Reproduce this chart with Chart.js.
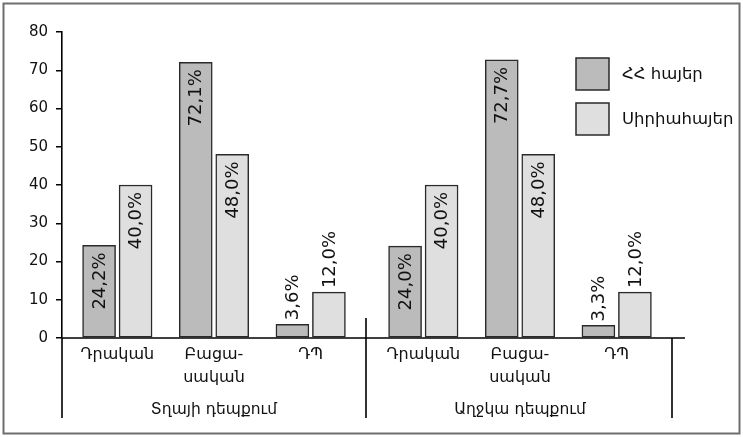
<!DOCTYPE html>
<html>
<head>
<meta charset="utf-8">
<script src="https://cdn.jsdelivr.net/npm/chart.js"></script>
<style>
  html, body { margin: 0; padding: 0; background: #fff; }
  canvas { display: block; }
</style>
</head>
<body>
<canvas id="chart" width="743" height="437"></canvas>
<script>
// Data
const subCategories = [['Դրական'], ['Բացա-', 'սական'], ['ԴՊ']];
const groupNames = ['Տղայի դեպքում', 'Աղջկա դեպքում'];
const seriesNames = ['ՀՀ հայեր', 'Սիրիահայեր'];
const boysArmenia = [24.2, 72.1, 3.6];
const boysSyria = [40.0, 48.0, 12.0];
const girlsArmenia = [24.0, 72.7, 3.3];
const girlsSyria = [40.0, 48.0, 12.0];
const yMin = 0, yMax = 80, yStep = 10;

const FONT = '"DejaVu Sans", Verdana, sans-serif';
const DARK = '#bbbbbb';
const LIGHT = '#dfdfdf';
const EDGE = '#2a2a2a';
const INK = '#111';
const BAR_W = 33;
const PAIR_SHIFT = 18.25; // half of bar width + gap between the two bars of a pair

const categoryKeys = subCategories.map(l => l.join(' '));
// one index scale per series and group, so each group gets its own stretch of the axis
const groupScales = [['hh1', 'syr1'], ['hh2', 'syr2']];

function fmt(v) {
    return v.toFixed(1).replace('.', ',') + '%';
}

function placeScale(scale, left, right) {
    scale.left = left;
    scale.right = right;
    scale.width = right - left;
    scale.configure();
}

const groupLayout = {
    id: 'groupLayout',
    afterLayout(chart) {
        const a = chart.chartArea;
        const split = a.left + 304;
        const end = a.left + 610;
        chart.$groups = { split, end };
        const spans = [[a.left + 7, split - 7], [split + 9, end - 7]];
        groupScales.forEach((ids, gi) => {
            const [l, r] = spans[gi];
            placeScale(chart.scales[ids[0]], l - PAIR_SHIFT, r - PAIR_SHIFT);
            placeScale(chart.scales[ids[1]], l + PAIR_SHIFT, r + PAIR_SHIFT);
        });
    }
};

const decorations = {
    id: 'decorations',
    beforeDraw(chart) {
        const ctx = chart.ctx;
        ctx.save();
        ctx.fillStyle = '#fff';
        ctx.fillRect(0, 0, chart.width, chart.height);
        ctx.strokeStyle = '#6e6e6e';
        ctx.lineWidth = 2;
        ctx.strokeRect(3.5, 3.5, 736, 430);
        ctx.restore();
    },
    afterDatasetsDraw(chart) {
        const ctx = chart.ctx;
        const a = chart.chartArea;
        const g = chart.$groups;
        const y0 = chart.scales.y.getPixelForValue(0);
        ctx.save();

        // axis line and group separators
        ctx.strokeStyle = '#000';
        ctx.lineWidth = 1.6;
        ctx.beginPath();
        ctx.moveTo(a.left, y0);
        ctx.lineTo(a.right, y0);
        ctx.moveTo(a.left, y0);
        ctx.lineTo(a.left, y0 + 80);
        ctx.moveTo(g.split, y0 - 20);
        ctx.lineTo(g.split, y0 + 80);
        ctx.moveTo(g.end, y0);
        ctx.lineTo(g.end, y0 + 80);
        ctx.stroke();

        // category and group labels
        ctx.fillStyle = INK;
        ctx.textAlign = 'center';
        ctx.textBaseline = 'middle';
        groupScales.forEach((ids, gi) => {
            const s1 = chart.scales[ids[0]], s2 = chart.scales[ids[1]];
            ctx.font = '16px ' + FONT;
            subCategories.forEach((lines, i) => {
                const x = (s1.getPixelForValue(i) + s2.getPixelForValue(i)) / 2;
                lines.forEach((ln, k) => ctx.fillText(ln, x, y0 + 17 + k * 23));
            });
            ctx.font = '15.5px ' + FONT;
            ctx.fillText(groupNames[gi], (s1.left + s2.right) / 2, y0 + 72);
        });

        // value labels, rotated
        ctx.font = '18px ' + FONT;
        chart.data.datasets.forEach((ds, i) => {
            chart.getDatasetMeta(i).data.forEach((bar, j) => {
                const txt = fmt(ds.data[j]);
                const w = ctx.measureText(txt).width;
                const h = bar.base - bar.y;
                ctx.save();
                ctx.translate(bar.x, bar.y);
                ctx.rotate(-Math.PI / 2);
                if (h > w + 16) {
                    ctx.textAlign = 'right';
                    ctx.fillText(txt, -7, 1);
                } else {
                    ctx.textAlign = 'left';
                    ctx.fillText(txt, 4, 1);
                }
                ctx.restore();
            });
        });

        // legend
        const colors = [DARK, LIGHT];
        ctx.font = '16.5px ' + FONT;
        seriesNames.forEach((name, i) => {
            const bx = a.right - 109;
            const by = a.top + 26 + i * 45;
            ctx.fillStyle = colors[i];
            ctx.fillRect(bx, by, 33, 32);
            ctx.strokeStyle = EDGE;
            ctx.lineWidth = 1.5;
            ctx.strokeRect(bx, by, 33, 32);
            ctx.fillStyle = INK;
            ctx.textAlign = 'left';
            ctx.fillText(name, bx + 46, by + 17);
        });
        ctx.restore();
    }
};

function barSet(label, data, color, axis) {
    return {
        label: label,
        data: data,
        xAxisID: axis,
        grouped: false,
        barThickness: BAR_W,
        backgroundColor: color,
        borderColor: EDGE,
        borderWidth: 1.5,
        borderSkipped: false
    };
}

function indexScale() {
    return { type: 'category', labels: categoryKeys, offset: true, display: false };
}

const chart = new Chart(document.getElementById('chart').getContext('2d'), {
    type: 'bar',
    data: {
        datasets: [
            barSet(seriesNames[0], boysArmenia, DARK, 'hh1'),
            barSet(seriesNames[1], boysSyria, LIGHT, 'syr1'),
            barSet(seriesNames[0], girlsArmenia, DARK, 'hh2'),
            barSet(seriesNames[1], girlsSyria, LIGHT, 'syr2')
        ]
    },
    options: {
        responsive: false,
        animation: false,
        layout: { padding: { top: 32, right: 58, bottom: 99, left: 0 } },
        plugins: {
            legend: { display: false },
            tooltip: { enabled: false }
        },
        scales: {
            hh1: indexScale(),
            syr1: indexScale(),
            hh2: indexScale(),
            syr2: indexScale(),
            y: {
                min: yMin,
                max: yMax,
                afterFit(scale) { scale.width = 62; },
                ticks: {
                    stepSize: yStep,
                    padding: 8,
                    color: INK,
                    font: { family: FONT, size: 15 }
                },
                grid: {
                    drawOnChartArea: false,
                    drawTicks: true,
                    tickLength: 6,
                    color: '#000',
                    lineWidth: 1.5
                },
                border: { color: '#000', width: 1.6 }
            }
        }
    },
    plugins: [groupLayout, decorations]
});
</script>
</body>
</html>
